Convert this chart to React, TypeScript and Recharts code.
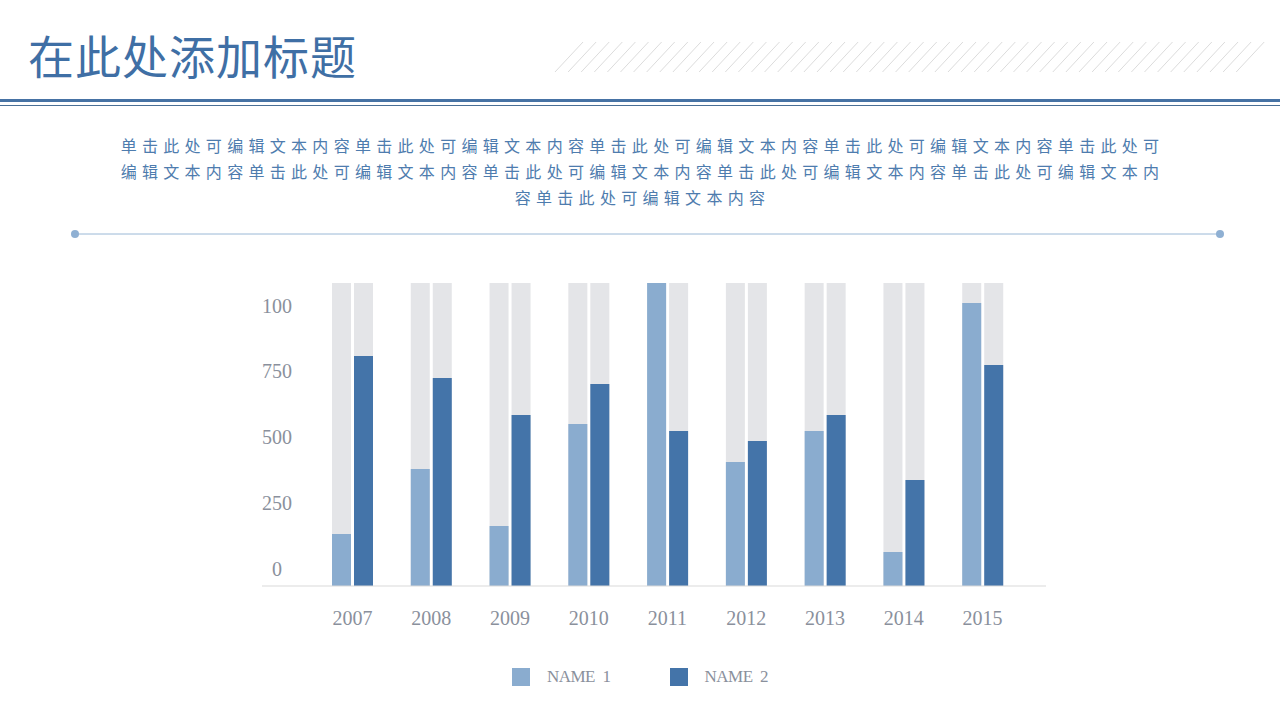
import React from "react";
import { BarChart, Bar, XAxis, YAxis, Legend } from "recharts";

const years = ["2007", "2008", "2009", "2010", "2011", "2012", "2013", "2014", "2015"];
const name1 = [197, 444, 228, 615, 1150, 471, 588, 129, 1074];
const name2 = [873, 789, 649, 767, 588, 550, 649, 402, 839];
const yTicks = [0, 250, 500, 750, 1000];
const yTickLabels = ["0", "250", "500", "750", "100"];

const paragraphLines = [
    "单击此处可编辑文本内容单击此处可编辑文本内容单击此处可编辑文本内容单击此处可编辑文本内容单击此处可",
    "编辑文本内容单击此处可编辑文本内容单击此处可编辑文本内容单击此处可编辑文本内容单击此处可编辑文本内",
    "容单击此处可编辑文本内容",
];

const data = years.map((year, i) => ({ year, name1: name1[i], name2: name2[i] }));

const LIGHT = "#8aaccf";
const DARK = "#4474a9";
const BG = "#e4e5e8";
const TEXT_GRAY = "#8a909c";
const LATIN = "'Liberation Serif', serif";
const CJK = "'Noto Sans CJK SC', sans-serif";

function YTick(props: any) {
    const { x, y, payload } = props;
    const i = yTicks.indexOf(payload.value);
    return (
        <text x={x + 15} y={y - 17} dy="0.35em" textAnchor="middle" fill={TEXT_GRAY} fontSize={20} fontFamily={LATIN}>
            {yTickLabels[i]}
        </text>
    );
}

function LegendContent(props: any) {
    const { payload } = props;
    return (
        <div style={{ display: "flex", justifyContent: "center", alignItems: "center", height: 24 }}>
            {payload.map((entry: any, i: number) => (
                <div key={i} style={{ display: "flex", alignItems: "center", marginRight: i === payload.length - 1 ? 0 : 59 }}>
                    <span style={{ display: "inline-block", width: 18, height: 18, background: entry.color, marginRight: 17 }} />
                    <span style={{ color: TEXT_GRAY, fontSize: 17, letterSpacing: -0.5, fontFamily: LATIN, whiteSpace: "pre" }}>{entry.value}</span>
                </div>
            ))}
        </div>
    );
}

function Hatch() {
    const lines = [];
    for (let k = 0; k < 53; k++) {
        const x0 = 555 + k * 13.1;
        lines.push(<line key={k} x1={x0} y1={72} x2={x0 + 28} y2={42} stroke="#dcdcdc" strokeWidth={1} />);
    }
    return <g>{lines}</g>;
}

export default function App() {
    return (
        <div style={{ position: "absolute", left: 0, top: 0, width: 1280, height: 720, background: "#fff", overflow: "hidden" }}>
            <svg width={1280} height={720} style={{ position: "absolute", left: 0, top: 0 }}>
                <Hatch />
                <rect x={0} y={99} width={1280} height={3} fill="#4672a4" />
                <rect x={0} y={105} width={1280} height={1} fill="#4a6f96" />
                <line x1={75} y1={234} x2={1220} y2={234} stroke="#9ab8d6" strokeWidth={1} />
                <circle cx={75} cy={234} r={4} fill="#8fb0d3" />
                <circle cx={1220} cy={234} r={4} fill="#8fb0d3" />
            </svg>
            <div style={{ position: "absolute", left: 28, top: 24, fontSize: 46, fontFamily: CJK, color: "#3f6fa5", lineHeight: "60px", letterSpacing: 1 }}>
                在此处添加标题
            </div>
            <div style={{ position: "absolute", left: 0, top: 132, width: 1280, textAlign: "center", fontFamily: CJK, fontSize: 16, letterSpacing: 5.3, color: "#4e7cae", lineHeight: "26px" }}>
                {paragraphLines.map((l, i) => (
                    <div key={i} style={{ paddingLeft: 5 }}>{l}</div>
                ))}
            </div>
            <div style={{ position: "absolute", left: 0, top: 0 }}>
                <BarChart
                    width={1280}
                    height={720}
                    data={data}
                    margin={{ top: 283, right: 234, left: 202, bottom: 31 }}
                    barSize={19}
                    barGap={3}
                >
                    <XAxis
                        dataKey="year"
                        height={79}
                        padding={{ left: 51, right: 24 }}
                        axisLine={{ stroke: "#d9d9d9", strokeWidth: 1 }}
                        tickLine={false}
                        tickSize={0}
                        tickMargin={25}
                        tick={{ fill: TEXT_GRAY, fontSize: 20, fontFamily: LATIN }}
                    />
                    <YAxis
                        width={60}
                        domain={[0, 1150]}
                        ticks={yTicks}
                        axisLine={false}
                        tickLine={false}
                        tickSize={0}
                        tickMargin={0}
                        tick={<YTick />}
                    />
                    <Legend
                        verticalAlign="bottom"
                        wrapperStyle={{ left: 0, width: 1280 }}
                        content={<LegendContent />}
                    />
                    <Bar dataKey="name1" name="NAME  1" fill={LIGHT} background={{ fill: BG }} isAnimationActive={false} />
                    <Bar dataKey="name2" name="NAME  2" fill={DARK} background={{ fill: BG }} isAnimationActive={false} />
                </BarChart>
            </div>
        </div>
    );
}
